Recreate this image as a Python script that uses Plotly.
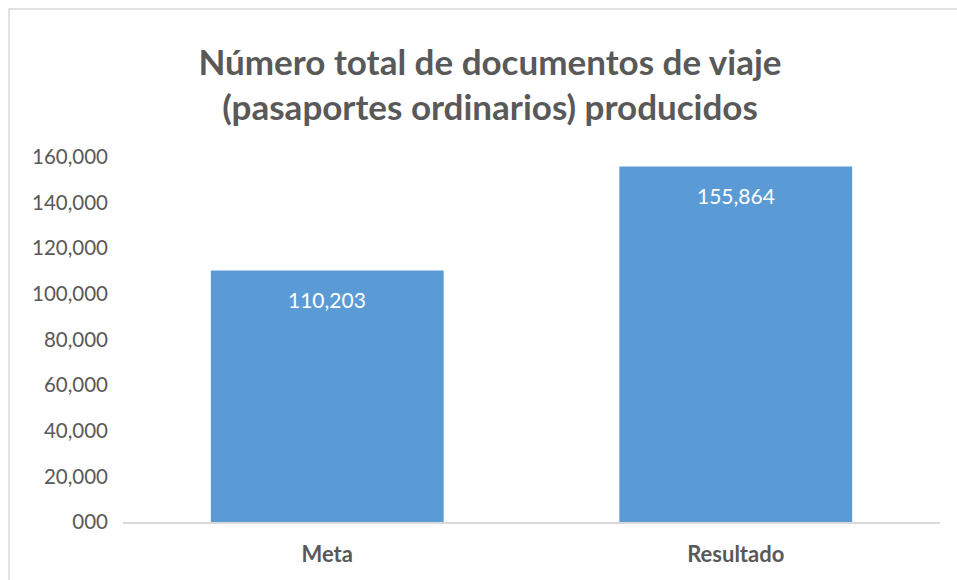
import plotly.graph_objects as go

categories = ["Meta", "Resultado"]
values = [110203, 155864]
tick_vals = [0, 20000, 40000, 60000, 80000, 100000, 120000, 140000, 160000]
tick_text = ["000", "20,000", "40,000", "60,000", "80,000", "100,000", "120,000", "140,000", "160,000"]
title_text = "<b>Número total de documentos de viaje<br>(pasaportes ordinarios) producidos</b>"

W, H = 957, 580
L, R, T, B = 123, 17, 157, 58
pw, ph = W - L - R, H - T - B

fig = go.Figure(go.Bar(
    x=categories, y=values, width=0.57,
    marker=dict(color="#5B9BD5", line=dict(width=0)),
    hoverinfo="x+y",
))

for c, v in zip(categories, values):
    fig.add_annotation(x=c, y=v, xref="x", yref="y", text=f"{v:,}", showarrow=False,
                       yanchor="middle", yshift=-29,
                       font=dict(color="white", size=21, family="Lato"))

fig.update_layout(
    width=W, height=H,
    margin=dict(l=L, r=R, t=T, b=B),
    paper_bgcolor="white", plot_bgcolor="white",
    font=dict(family="Lato", color="#595959"),
    showlegend=False,
    title=dict(text=title_text, x=(490 - L) / pw, xref="paper", xanchor="center",
               y=1 - 74.5 / H, yanchor="middle", font=dict(size=35, color="#595959", family="Lato")),
)
fig.update_yaxes(range=[0, 160000], tickvals=tick_vals, ticktext=tick_text,
                 showgrid=False, zeroline=False, showline=False,
                 tickfont=dict(size=20.5, color="#595959"), ticks="", ticklen=0,
                 ticklabelstandoff=14, automargin=False)
fig.update_xaxes(showline=True, linecolor="#D9D9D9", linewidth=1.5, showgrid=False,
                 tickfont=dict(size=22, color="#595959"), ticks="", automargin=False,
                 ticklabelstandoff=12,
                 tickvals=categories, ticktext=[f"<b>{c}</b>" for c in categories])

# outer chart frame
fig.add_shape(type="rect", xref="paper", yref="paper",
              x0=(9 - L) / pw, x1=(W + 20 - L) / pw,
              y0=(H - B - (H + 20)) / ph, y1=(H - B - 9) / ph,
              line=dict(color="#D9D9D9", width=1.5), fillcolor="rgba(0,0,0,0)", layer="below")

fig.write_html("out.html", config={"displayModeBar": False},
               post_script="document.body.style.margin='0';document.body.style.overflow='hidden';")
